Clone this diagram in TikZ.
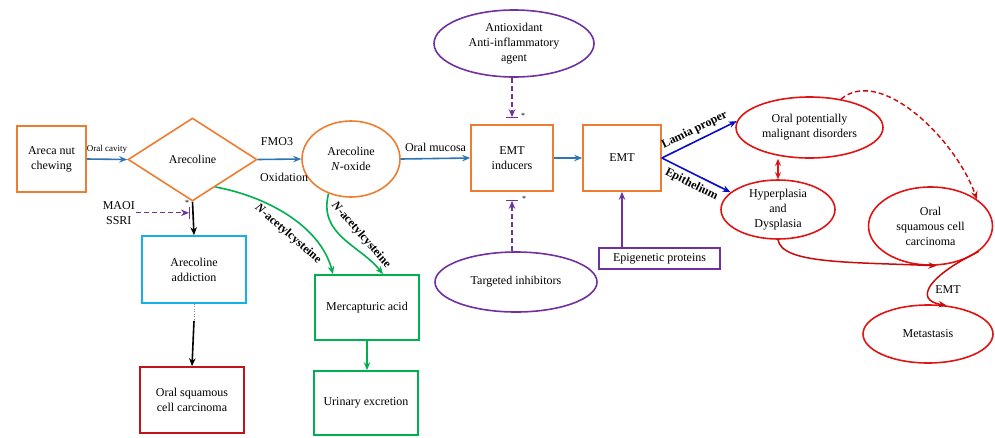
\documentclass[tikz,border=0pt]{standalone}
\usepackage{fontspec}
\setmainfont{Liberation Serif}
\usetikzlibrary{shapes.geometric,arrows.meta,calc}
\definecolor{orng}{RGB}{237,125,49}
\definecolor{lblue}{RGB}{46,117,182}
\definecolor{dblue}{RGB}{10,10,200}
\definecolor{purp}{RGB}{112,48,160}
\definecolor{cyanb}{RGB}{20,176,230}
\definecolor{grn}{RGB}{0,176,80}
\definecolor{redl}{RGB}{225,20,20}
\definecolor{redd}{RGB}{192,20,30}
\definecolor{redc}{RGB}{200,10,10}
\begin{document}
\begin{tikzpicture}[x=1pt,y=-1pt,
  font=\fontsize{12}{15}\selectfont,
  box/.style={draw, line width=1.6pt, rectangle, inner sep=0pt, align=center},
  ell/.style={draw, line width=1.6pt, ellipse, inner sep=0pt, align=center},
  arr/.style={line width=1.6pt, -{Stealth[length=8pt,width=6.5pt]}},
  dsh/.style={dash pattern=on 5pt off 3pt},
  lbl/.style={font=\fontsize{12}{15}\selectfont},
  smalllbl/.style={font=\fontsize{9}{11}\selectfont},
  starlbl/.style={font=\fontsize{8}{9}\selectfont, inner sep=0pt},
  bolds/.style={font=\fontsize{12}{15}\selectfont\bfseries}
  ]
\useasboundingbox (0,0) rectangle (995,437);

% main row
\node[box, draw=orng, minimum width=69pt, minimum height=66pt] (areca) at (51.5,159) {Areca nut\\chewing};
\node[draw=orng, line width=1.6pt, diamond, minimum width=129pt, minimum height=83pt, inner sep=0pt] (arec) at (192.5,159.5) {Arecoline};
\node[ell, draw=orng, minimum width=98pt, minimum height=76pt] (nox) at (351,159) {Arecoline\\\textit{N}-oxide};
\node[box, draw=orng, minimum width=82pt, minimum height=66pt] (emti) at (512,158) {EMT\\inducers};
\node[box, draw=orng, minimum width=78pt, minimum height=66pt] (emt) at (622,158) {EMT};

% purple modifiers
\node[ell, draw=purp, minimum width=160pt, minimum height=67pt] (antiox) at (514,43.5) {Antioxidant\\Anti-inflammatory\\agent};
\node[ell, draw=purp, minimum width=162pt, minimum height=60pt] (targ) at (516,282) {Targeted inhibitors};
\node[box, draw=purp, line width=1.3pt, minimum width=121pt, minimum height=21pt] (epi) at (659.5,258.5) {Epigenetic proteins};

% red outcomes
\node[ell, draw=redl, minimum width=147pt, minimum height=61pt] (opmd) at (809.5,127.5) {Oral potentially\\malignant disorders};
\node[ell, draw=redl, minimum width=114pt, minimum height=59pt] (hyper) at (778,209.5) {Hyperplasia\\and\\Dysplasia};
\node[ell, draw=redl, minimum width=124pt, minimum height=78pt] (oscc) at (930.5,226) {Oral\\squamous cell\\carcinoma};
\node[ell, draw=redl, minimum width=130pt, minimum height=58pt] (meta) at (928,334) {Metastasis};

% left column
\node[box, draw=cyanb, minimum width=104pt, minimum height=67pt] (addict) at (194,269.5) {Arecoline\\addiction};
\node[box, draw=redd, minimum width=104pt, minimum height=66pt] (osccbox) at (192,400) {Oral squamous\\cell carcinoma};

% green column
\node[box, draw=grn, minimum width=104pt, minimum height=65pt] (merc) at (367,307.5) {Mercapturic acid};
\node[box, draw=grn, minimum width=104pt, minimum height=64pt] (urin) at (366,403) {Urinary excretion};

% main arrows
\draw[arr, lblue] (areca.east) -- node[midway, above=2pt, smalllbl, text=black] {Oral cavity} (arec.west);
\draw[arr, lblue] (arec.east) -- (nox.west);
\node[lbl] (fmo) at (277,142) {FMO3};
\node[lbl] (oxi) at (284,177) {Oxidation};
\draw[arr, lblue] (nox.east) -- node[midway, above=3pt, lbl, text=black] {Oral mucosa} (emti.west);
\draw[arr, lblue] (emti.east) -- (emt.west);

% EMT branches
\draw[arr, dblue] (emt.east) -- node[midway, sloped, above=1pt, bolds, text=black] {Lamia proper} (opmd.175);
\draw[arr, dblue] (emt.east) -- node[midway, sloped, below=1pt, bolds, text=black] {Epithelium} (hyper.160);

% inhibitor arrows
\coordinate (ab) at ([yshift=7pt]emti.north);
\draw[arr, purp, dsh, line width=1.3pt] (ab |- antiox.south) -- (ab);
\draw[purp, line width=0.8pt] ([xshift=-6pt]ab) -- ([xshift=6pt]ab);
\node[starlbl] (st1) at ([xshift=11pt,yshift=1pt]ab) {*};

\coordinate (tb) at ([yshift=-9pt]emti.south);
\draw[arr, purp, dsh, line width=1.3pt] (tb |- targ.north) -- (tb);
\draw[purp, line width=0.8pt] ([xshift=-6pt]tb) -- ([xshift=6pt]tb);
\node[starlbl] (st2) at ([xshift=12pt,yshift=2pt]tb) {*};

\draw[arr, purp, line width=1.5pt] (emt.south |- epi.north) -- (emt.south);

% red links
\draw[redl, line width=1.5pt, {Stealth[length=7pt,width=6pt]}-{Stealth[length=7pt,width=6pt]}] (hyper.north) -- (hyper.north |- opmd.south);
\draw[arr, redc, dsh, line width=1.4pt] (opmd.42) .. controls (880,66) and (955,138) .. (oscc.30);
\draw[arr, redc, line width=1.5pt] (hyper.south) .. controls (782,264) and (850,262) .. ([xshift=6pt]oscc.south);
\draw[arr, redc, line width=1.5pt] (oscc.-28) .. controls (930,275) and (912,300) .. (meta.57);
\node[lbl] (emtl) at (948,290) {EMT};

% left column arrows
\draw[arr, black] (arec.south) -- (addict.north);
\coordinate (mb) at ([xshift=-3.5pt,yshift=-11pt]arec.south);
\node[lbl, anchor=east, align=center, inner sep=1pt] (maoi) at ([xshift=-53pt]mb) {MAOI\\SSRI};
\draw[arr, purp, dsh, line width=1.3pt] (maoi.east) -- (mb);
\draw[purp, line width=0.8pt] ([yshift=6pt]mb) -- ([yshift=-6pt]mb);
\node[starlbl] (st3) at ([xshift=-2pt,yshift=10pt]mb) {*};
\coordinate (ac) at ([yshift=-17pt]addict.south);
\draw[gray, line width=0.5pt, dotted] (addict.south) -- (ac);
\draw[arr, black] (ac) -- (osccbox.north);

% green arrows
\coordinate (g1) at ($(arec.east)!0.65!(arec.south)$);
\draw[arr, grn] (g1) .. controls (265,196) and (320,225) .. ([xshift=-34pt]merc.north);
\node[bolds, rotate=-41] (nac1) at (288,234) {\textit{N}-acetylcysteine};
\draw[arr, grn] (nox.237) .. controls (318,235) and (360,245) .. ([xshift=16pt]merc.north);
\node[bolds, rotate=-49] (nac2) at (361,235) {\textit{N}-acetylcysteine};
\draw[arr, grn] (merc.south) -- (merc.south |- urin.north);
\end{tikzpicture}
\end{document}
